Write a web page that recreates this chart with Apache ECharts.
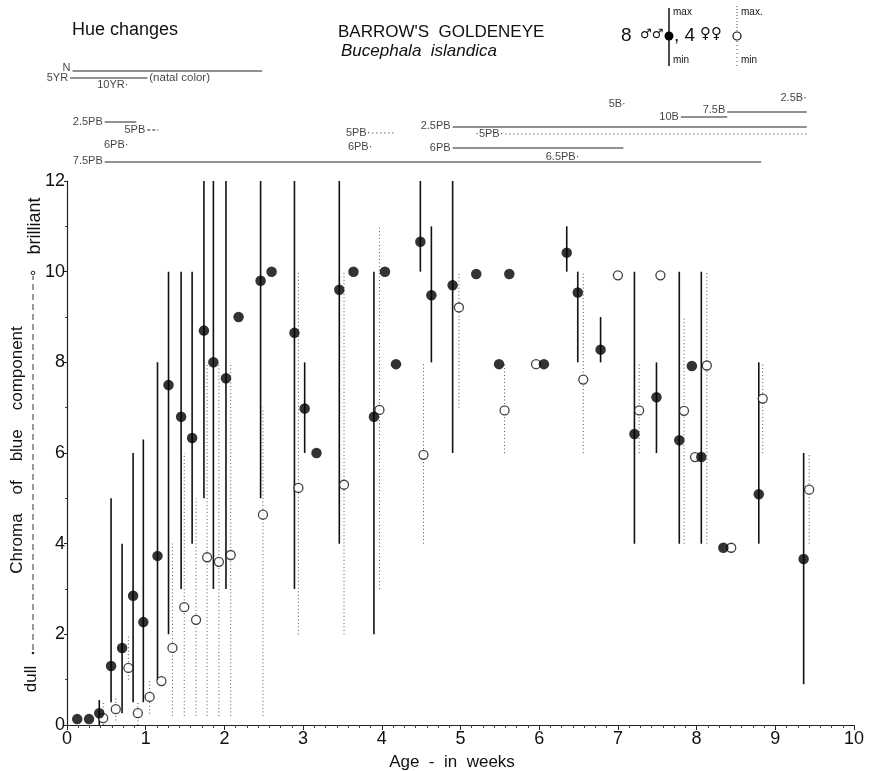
<!DOCTYPE html>
<html>
<head>
<meta charset="utf-8">
<script src="https://cdn.jsdelivr.net/npm/echarts@6/dist/echarts.min.js"></script>
<style>html,body{margin:0;padding:0;background:#fff}#c{width:869px;height:771px}</style>
</head>
<body>
<div id="c"></div>
<script>
// ---------------- DATA ----------------
// Males (8 ♂♂): mean chroma with min/max range (null = no range drawn)
const maleWeek = [0.13,0.28,0.41,0.56,0.70,0.84,0.97,1.15,1.29,1.45,1.59,1.74,1.86,2.02,2.18,2.46,2.60,2.89,3.02,3.17,3.46,3.64,3.90,4.04,4.18,4.49,4.63,4.90,5.20,5.49,5.62,6.06,6.35,6.49,6.78,7.21,7.49,7.78,7.94,8.06,8.34,8.79,9.36];
const maleMean = [0.13,0.13,0.26,1.3,1.7,2.85,2.27,3.73,7.5,6.8,6.33,8.7,8.0,7.65,9.0,9.8,10.0,8.65,6.98,6.0,9.6,10.0,6.8,10.0,7.96,10.66,9.48,9.7,9.95,7.96,9.95,7.96,10.42,9.54,8.28,6.42,7.23,6.28,7.92,5.91,3.91,5.09,3.66];
const maleMin  = [null,null,0,0.5,0.26,0.5,0.5,1.0,2.0,3.0,4.0,5.0,3.0,3.0,null,5.0,null,3.0,6.0,null,4.0,null,2.0,null,null,10.0,8.0,6.0,null,null,null,null,10.0,8.0,8.0,4.0,6.0,4.0,null,4.0,null,4.0,0.9];
const maleMax  = [null,null,0.55,5.0,4.0,6.0,6.3,8.0,10,10,10,12,12,12,null,12,null,12,8.0,null,12,null,10,null,null,12,11,12,null,null,null,null,11,10,9,10,8,10,null,10,null,8,6];

// Females (4 ♀♀)
const femWeek = [0.46,0.62,0.78,0.90,1.05,1.20,1.34,1.49,1.64,1.78,1.93,2.08,2.49,2.94,3.52,3.97,4.53,4.98,5.56,5.96,6.56,7.00,7.27,7.54,7.84,7.98,8.13,8.44,8.84,9.43];
const femMean = [0.15,0.35,1.26,0.26,0.62,0.97,1.7,2.6,2.32,3.7,3.6,3.75,4.64,5.23,5.3,6.95,5.96,9.21,6.94,7.96,7.62,9.92,6.94,9.92,6.93,5.91,7.93,3.91,7.2,5.19];
const femMin  = [0,0.1,1.0,0,0.25,null,0.2,0.2,0.2,0.2,0.2,0.2,0.2,2,2,3,4,7,6,null,6,null,6,null,4,null,4,null,6,4];
const femMax  = [0.5,0.6,2.0,0.5,1.0,null,4,6,5,8,8,8,7,10,10,11,8,10,8,null,10,null,8,null,9,null,10,null,8,6];

// Hue changes (weeks)
const hueSegLabels = ['N','5YR','2.5PB','5PB','7.5PB','5PB·','2.5PB','·5PB·','6PB','10B','7.5B'];
const hueSegFrom   = [0.07,0.04,0.48,1.02,0.48,3.88,4.90,5.57,4.90,7.80,8.39];
const hueSegTo     = [2.48,1.02,0.88,1.16,8.82,4.17,9.40,9.40,7.07,8.39,9.40];
const hueDotLabels = ['10YR·','6PB·','6PB·','6.5PB·','5B·','2.5B·'];
const hueDotWeek   = [0.78,0.78,3.88,6.51,7.10,9.40];

const xTicks = [0,1,2,3,4,5,6,7,8,9,10];
const yTicks = [0,2,4,6,8,10,12];

// ---------------- LAYOUT / STYLE ----------------
const hueSegRowY  = [71,78,122,130,162,133,127,134,148,117,112];
const hueSegLabelDy = [-3,0,0,0,-1,0,-1,0,0,0,-2];
const hueSegDash  = ['solid','solid','solid',[3,2],'solid',[1,3],'solid',[1,3],'solid','solid','solid'];
const hueDotRowY  = [85,145,147,157,104,98];
const FONT = '"Liberation Sans", Arial, Helvetica, sans-serif';

const chart = echarts.init(document.getElementById('c'), null, {renderer:'canvas'});

function rangeSeries(name, wk, lo, hi, style) {
  const data = [];
  wk.forEach((w,i)=>{ if (lo[i]!=null && hi[i]!=null) data.push([w, lo[i], hi[i]]); });
  return {
    name, type:'custom', xAxisIndex:0, yAxisIndex:0, z:2,
    renderItem:(params, api)=>{
      const a = api.coord([api.value(0), api.value(1)]);
      const b = api.coord([api.value(0), api.value(2)]);
      return {type:'line', shape:{x1:a[0],y1:a[1],x2:b[0],y2:b[1]}, style:Object.assign({fill:null}, style)};
    },
    data, silent:true
  };
}

const segData = hueSegLabels.map((l,i)=>[hueSegFrom[i], hueSegTo[i], hueSegRowY[i], i]);
const segLabelData = hueSegLabels.map((l,i)=>({value:[hueSegFrom[i], hueSegRowY[i]+hueSegLabelDy[i]], name:l}));
const dotLabelData = hueDotLabels.map((l,i)=>({value:[hueDotWeek[i], hueDotRowY[i]], name:l}));

const option = {
  animation:false,
  backgroundColor:'#fff',
  textStyle:{fontFamily:FONT},
  grid:[
    {left:67, right:15, top:181, bottom:46},
    {left:67, right:15, top:55, height:115}
  ],
  xAxis:[
    {type:'value', gridIndex:0, min:xTicks[0], max:xTicks[xTicks.length-1], interval:1,
     axisLine:{show:true, onZero:false, lineStyle:{color:'#222', width:1.2}},
     axisTick:{show:true, length:5, lineStyle:{color:'#222'}},
     minorTick:{show:true, splitNumber:7, length:3, lineStyle:{color:'#444'}},
     splitLine:{show:false},
     axisLabel:{fontSize:18, color:'#111', margin:5, fontFamily:FONT}},
    {type:'value', gridIndex:1, min:0, max:10, show:false}
  ],
  yAxis:[
    {type:'value', gridIndex:0, min:yTicks[0], max:yTicks[yTicks.length-1], interval:2,
     axisLine:{show:true, onZero:false, lineStyle:{color:'#222', width:1.2}},
     axisTick:{show:true, length:3, lineStyle:{color:'#222'}},
     minorTick:{show:true, splitNumber:2, length:2, lineStyle:{color:'#444'}},
     splitLine:{show:false},
     axisLabel:{fontSize:18, color:'#111', margin:2, fontFamily:FONT}},
    {type:'value', gridIndex:1, min:55, max:170, inverse:true, show:false}
  ],
  series:[
    rangeSeries('femRange', femWeek, femMin, femMax, {stroke:'#555', lineWidth:1, lineDash:[1,2.5]}),
    rangeSeries('maleRange', maleWeek, maleMin, maleMax, {stroke:'#111', lineWidth:1.6}),
    {name:'female', type:'scatter', xAxisIndex:0, yAxisIndex:0, z:4,
     symbol:'circle', symbolSize:9,
     itemStyle:{color:'#fff', borderColor:'#111', borderWidth:1.3},
     data:femWeek.map((w,i)=>[w, femMean[i]]), silent:true},
    {name:'male', type:'scatter', xAxisIndex:0, yAxisIndex:0, z:5,
     symbol:'circle', symbolSize:10.5,
     itemStyle:{color:'#000'},
     data:maleWeek.map((w,i)=>[w, maleMean[i]]), silent:true},
    // hue lines
    {name:'hueLines', type:'custom', xAxisIndex:1, yAxisIndex:1,
     renderItem:(params, api)=>{
       const i = api.value(3);
       const a = api.coord([api.value(0), api.value(2)]);
       const b = api.coord([api.value(1), api.value(2)]);
       const dash = hueSegDash[i];
       return {type:'line', shape:{x1:a[0],y1:a[1],x2:b[0],y2:b[1]},
               style:{stroke:'#222', lineWidth:1, lineDash: dash==='solid'?null:dash}};
     },
     data:segData, silent:true},
    {name:'hueSegLabels', type:'scatter', xAxisIndex:1, yAxisIndex:1, symbolSize:0,
     label:{show:true, position:'left', distance:2, formatter:p=>p.name, fontSize:11, color:'#111', fontFamily:FONT},
     data:segLabelData, silent:true},
    {name:'hueDotLabels', type:'scatter', xAxisIndex:1, yAxisIndex:1, symbolSize:0,
     label:{show:true, position:'left', distance:0, formatter:p=>p.name, fontSize:11, color:'#111', fontFamily:FONT},
     data:dotLabelData, silent:true},
    {name:'natal', type:'scatter', xAxisIndex:1, yAxisIndex:1, symbolSize:0,
     label:{show:true, position:'right', distance:2, formatter:'(natal color)', fontSize:11.5, color:'#111', fontFamily:FONT},
     data:[[hueSegTo[1], hueSegRowY[1]]], silent:true}
  ],
  graphic:[
    {type:'text', left:72, top:21, style:{text:'Hue changes', font:'18px '+FONT, fill:'#111'}},
    {type:'text', left:338, top:24, style:{text:"BARROW'S  GOLDENEYE", font:'17px '+FONT, fill:'#111'}},
    {type:'text', left:341, top:43, style:{text:'Bucephala  islandica', font:'italic 17px '+FONT, fill:'#111'}},
    // legend
    {type:'text', left:621, top:26, style:{text:'8', font:'19px '+FONT, fill:'#111'}},
    {type:'text', left:640, top:28, style:{text:'♂♂', font:'13px "DejaVu Sans"', fill:'#111'}},
    {type:'line', shape:{x1:669,y1:8,x2:669,y2:66}, style:{stroke:'#111', lineWidth:1.5}},
    {type:'circle', shape:{cx:669, cy:36, r:4.5}, style:{fill:'#000'}},
    {type:'text', left:674, top:26, style:{text:', 4', font:'19px '+FONT, fill:'#111'}},
    {type:'text', left:700, top:27, style:{text:'♀♀', font:'15px "DejaVu Sans"', fill:'#111'}},
    {type:'line', shape:{x1:737,y1:6,x2:737,y2:31}, style:{stroke:'#444', lineWidth:1, lineDash:[1,2]}},
    {type:'line', shape:{x1:737,y1:41,x2:737,y2:66}, style:{stroke:'#444', lineWidth:1, lineDash:[1,3]}},
    {type:'circle', shape:{cx:737, cy:36, r:4}, style:{fill:'#fff', stroke:'#111', lineWidth:1.2}},
    {type:'text', left:673, top:7, style:{text:'max', font:'10px '+FONT, fill:'#111'}},
    {type:'text', left:673, top:55, style:{text:'min', font:'10px '+FONT, fill:'#111'}},
    {type:'text', left:741, top:7, style:{text:'max.', font:'10px '+FONT, fill:'#111'}},
    {type:'text', left:741, top:55, style:{text:'min', font:'10px '+FONT, fill:'#111'}},
    // y-axis title
    {type:'text', x:17, y:450, rotation:Math.PI/2,
     style:{text:'Chroma    of    blue    component', font:'17px '+FONT, fill:'#111', textAlign:'center', textVerticalAlign:'middle'}},
    {type:'text', x:31, y:679, rotation:Math.PI/2,
     style:{text:'dull', font:'17px '+FONT, fill:'#111', textAlign:'center', textVerticalAlign:'middle'}},
    {type:'text', x:35, y:226, rotation:Math.PI/2,
     style:{text:'brilliant', font:'18px '+FONT, fill:'#111', textAlign:'center', textVerticalAlign:'middle'}},
    {type:'line', shape:{x1:33,y1:650,x2:33,y2:276}, style:{stroke:'#333', lineWidth:1, lineDash:[6,4]}},
    {type:'circle', shape:{cx:33, cy:273, r:1.8}, style:{fill:'#fff', stroke:'#222', lineWidth:1}},
    {type:'circle', shape:{cx:33, cy:653, r:1.3}, style:{fill:'#222'}},
    // x-axis title
    {type:'text', x:452, y:762,
     style:{text:'Age  -  in  weeks', font:'17px '+FONT, fill:'#111', textAlign:'center', textVerticalAlign:'middle'}}
  ]
};
chart.setOption(option);
</script>
</body>
</html>
